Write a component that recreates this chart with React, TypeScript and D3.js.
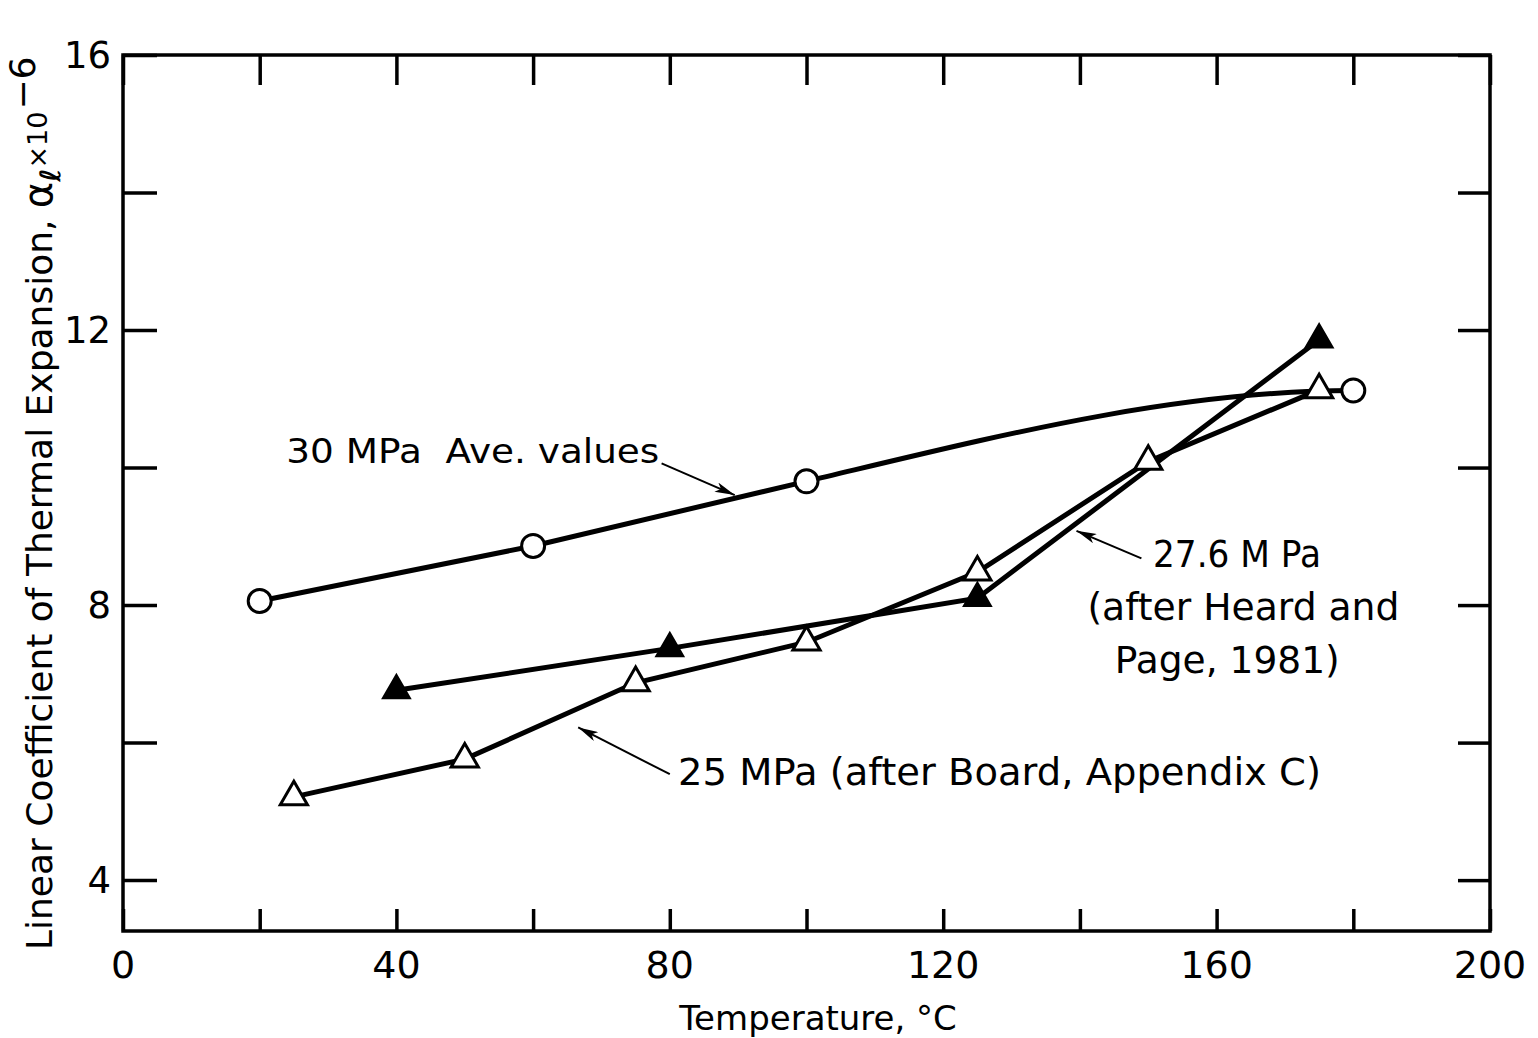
import React, { useEffect, useRef } from "react";
import * as d3 from "d3";

// temperature (°C) vs linear coefficient of thermal expansion (x10^-6)
const aveTemps = [20, 60, 100, 180];
const aveValues = [8.06, 8.86, 9.8, 11.12];

const heardTemps = [40, 80, 125, 175];
const heardValues = [6.76, 7.37, 8.1, 11.86];

const boardTemps = [25, 50, 75, 100, 125, 150, 175];
const boardValues = [5.21, 5.76, 6.87, 7.46, 8.48, 10.09, 11.13];

const xTicks = [0, 20, 40, 60, 80, 100, 120, 140, 160, 180, 200];
const xLabels = [0, 40, 80, 120, 160, 200];
const yTicks = [4, 6, 8, 10, 12, 14, 16];
const yLabels = [4, 8, 12, 16];

// callouts, anchored in data units
const notes = [
  {
    lines: ["30 MPa  Ave. values"],
    starts: [23.9],
    baseline: 10.06,
    size: 33,
    widths: [373],
    from: [78.8, 10.06],
    to: [89.5, 9.6],
  },
  {
    lines: ["27.6 M Pa", "(after Heard and", "Page, 1981)"],
    starts: [150.7, 141.1, 145.1],
    baseline: 8.55,
    size: 37,
    widths: [168, 312, 225],
    from: [149.0, 8.68],
    to: [139.5, 9.08],
  },
  {
    lines: ["25 MPa (after Board, Appendix C)"],
    starts: [81.2],
    baseline: 5.38,
    size: 37,
    widths: [643],
    from: [80.0, 5.54],
    to: [66.6, 6.22],
  },
];

const FONT = "'DejaVu Sans', sans-serif";

export default function App() {
  const ref = useRef<SVGSVGElement | null>(null);

  useEffect(() => {
    document.body.style.margin = "0";
    const svg = d3.select(ref.current);
    svg.selectAll("*").remove();

    const x = d3.scaleLinear().domain([0, 200]).range([123, 1490]);
    const y = d3.scaleLinear().domain([3.26, 16]).range([931, 55]);

    const defs = svg.append("defs");
    defs
      .append("marker")
      .attr("id", "arrow")
      .attr("markerUnits", "userSpaceOnUse")
      .attr("viewBox", "0 0 20 10")
      .attr("refX", 20)
      .attr("refY", 5)
      .attr("markerWidth", 20)
      .attr("markerHeight", 10)
      .attr("orient", "auto")
      .append("path")
      .attr("d", "M0,0 L20,5 L0,10 L5,5 Z")
      .attr("fill", "#000");

    const g = svg.append("g");

    // frame
    g.append("rect")
      .attr("x", x(0))
      .attr("y", y(16))
      .attr("width", x(200) - x(0))
      .attr("height", y(3.26) - y(16))
      .attr("fill", "none")
      .attr("stroke", "#000")
      .attr("stroke-width", 3.5);

    // inward ticks on all four sides
    const xAxisB = d3.axisBottom(x).tickValues(xTicks).tickSize(-22).tickFormat(() => "");
    const xAxisT = d3.axisTop(x).tickValues(xTicks).tickSize(-30).tickFormat(() => "");
    const yAxisL = d3.axisLeft(y).tickValues(yTicks).tickSize(-34).tickFormat(() => "");
    const yAxisR = d3.axisRight(y).tickValues(yTicks).tickSize(-32).tickFormat(() => "");

    const styleAxis = (sel: any) => {
      sel.select(".domain").remove();
      sel.selectAll(".tick line").attr("stroke", "#000").attr("stroke-width", 3.5);
    };
    g.append("g").attr("transform", `translate(0,${y(3.26)})`).call(xAxisB).call(styleAxis);
    g.append("g").attr("transform", `translate(0,${y(16)})`).call(xAxisT).call(styleAxis);
    g.append("g").attr("transform", `translate(${x(0)},0)`).call(yAxisL).call(styleAxis);
    g.append("g").attr("transform", `translate(${x(200)},0)`).call(yAxisR).call(styleAxis);

    // tick labels
    g.selectAll(".xl")
      .data(xLabels)
      .join("text")
      .attr("x", (d) => x(d))
      .attr("y", 978)
      .attr("text-anchor", "middle")
      .attr("font-family", FONT)
      .attr("font-size", 38)
      .text((d) => d);

    g.selectAll(".yl")
      .data(yLabels)
      .join("text")
      .attr("x", 111)
      .attr("y", (d) => y(d) + 13)
      .attr("text-anchor", "end")
      .attr("font-family", FONT)
      .attr("font-size", 37)
      .text((d) => d);

    // axis titles
    g.append("text")
      .attr("x", 818)
      .attr("y", 1030)
      .attr("text-anchor", "middle")
      .attr("font-family", FONT)
      .attr("font-size", 34)
      .text("Temperature, °C");

    const yt = g
      .append("text")
      .attr("transform", "translate(52,950) rotate(-90)")
      .attr("font-family", FONT)
      .attr("font-size", 36);
    yt.append("tspan").text("Linear Coefficient of Thermal Expansion, ");
    yt.append("tspan").attr("font-size", 40).text("α");
    yt.append("tspan").attr("font-size", 28).attr("font-weight", "bold").attr("dy", 8).text("ℓ");
    yt.append("tspan").attr("font-size", 27).attr("dy", -13).text("×10");
    yt.append("tspan").attr("font-size", 36).attr("dx", 2).attr("dy", -12).text("−6");

    // 30 MPa: straight through the first points, then a smooth flattening run to the last one
    const avePts = aveTemps.map((t, i) => [x(t), y(aveValues[i])]);
    const p = d3.path();
    p.moveTo(avePts[0][0], avePts[0][1]);
    for (let i = 1; i < avePts.length - 1; i++) p.lineTo(avePts[i][0], avePts[i][1]);
    const a = avePts[avePts.length - 3];
    const b = avePts[avePts.length - 2];
    const c = avePts[avePts.length - 1];
    const slope = (b[1] - a[1]) / (b[0] - a[0]);
    const h = (c[0] - b[0]) / 3;
    p.bezierCurveTo(b[0] + h, b[1] + slope * h, c[0] - h, c[1], c[0], c[1]);
    g.append("path")
      .attr("d", p.toString())
      .attr("fill", "none")
      .attr("stroke", "#000")
      .attr("stroke-width", 5);

    const line = d3
      .line<[number, number]>()
      .x((d) => x(d[0]))
      .y((d) => y(d[1]));
    [
      { t: heardTemps, v: heardValues },
      { t: boardTemps, v: boardValues },
    ].forEach((s) => {
      g.append("path")
        .datum(s.t.map((t, i) => [t, s.v[i]] as [number, number]))
        .attr("d", line)
        .attr("fill", "none")
        .attr("stroke", "#000")
        .attr("stroke-width", 5);
    });

    // markers
    const tri = d3.symbol().type(d3.symbolTriangle).size(320);
    g.selectAll(".ave")
      .data(aveTemps)
      .join("circle")
      .attr("cx", (d) => x(d))
      .attr("cy", (d, i) => y(aveValues[i]))
      .attr("r", 11.5)
      .attr("fill", "#fff")
      .attr("stroke", "#000")
      .attr("stroke-width", 3);

    g.selectAll(".heard")
      .data(heardTemps)
      .join("path")
      .attr("d", tri)
      .attr("transform", (d, i) => `translate(${x(d)},${y(heardValues[i])})`)
      .attr("fill", "#000")
      .attr("stroke", "#000")
      .attr("stroke-width", 2);

    g.selectAll(".board")
      .data(boardTemps)
      .join("path")
      .attr("d", tri)
      .attr("transform", (d, i) => `translate(${x(d)},${y(boardValues[i])})`)
      .attr("fill", "#fff")
      .attr("stroke", "#000")
      .attr("stroke-width", 3);

    // callouts
    notes.forEach((n) => {
      g.append("line")
        .attr("x1", x(n.from[0]))
        .attr("y1", y(n.from[1]))
        .attr("x2", x(n.to[0]))
        .attr("y2", y(n.to[1]))
        .attr("stroke", "#000")
        .attr("stroke-width", 2)
        .attr("marker-end", "url(#arrow)");
      n.lines.forEach((ln, i) => {
        g.append("text")
          .attr("x", x(n.starts[i]))
          .attr("y", y(n.baseline) + i * 53)
          .attr("font-family", FONT)
          .attr("font-size", n.size)
          .attr("textLength", n.widths[i])
          .attr("lengthAdjust", "spacingAndGlyphs")
          .style("white-space", "pre")
          .text(ln);
      });
    });
  }, []);

  return (
    <svg
      ref={ref}
      width={1538}
      height={1038}
      style={{ display: "block", background: "#fff" }}
    />
  );
}
